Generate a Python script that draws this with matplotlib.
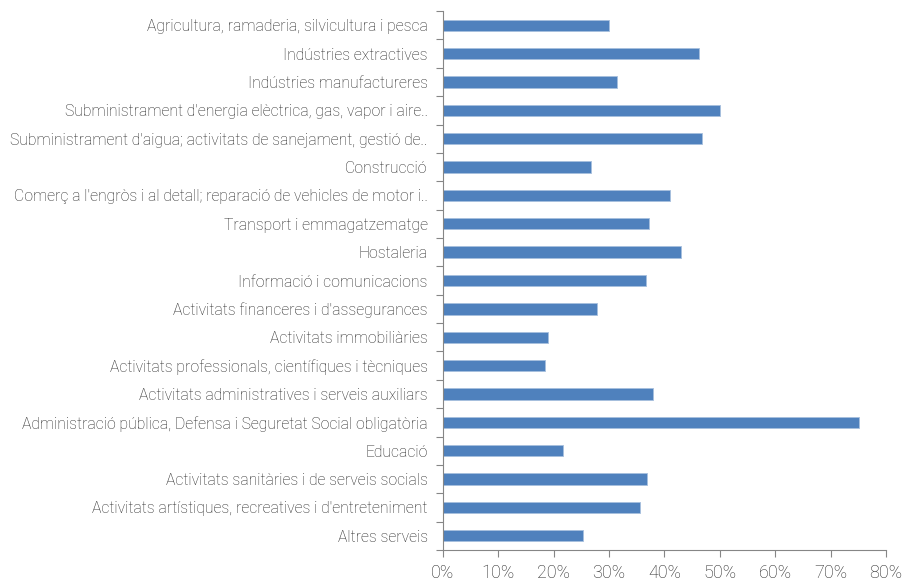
import matplotlib.pyplot as plt
import numpy as np
from matplotlib.ticker import FixedLocator, PercentFormatter

plt.rcParams['font.family'] = ['Roboto', 'DejaVu Sans']
plt.rcParams['font.weight'] = 'light'

sectors = [
    "Agricultura, ramaderia, silvicultura i pesca",
    "Indústries extractives",
    "Indústries manufactureres",
    "Subministrament d'energia elèctrica, gas, vapor i aire..",
    "Subministrament d'aigua; activitats de sanejament, gestió de..",
    "Construcció",
    "Comerç a l'engròs i al detall; reparació de vehicles de motor i..",
    "Transport i emmagatzematge",
    "Hostaleria",
    "Informació i comunicacions",
    "Activitats financeres i d'assegurances",
    "Activitats immobiliàries",
    "Activitats professionals, científiques i tècniques",
    "Activitats administratives i serveis auxiliars",
    "Administració pública, Defensa i Seguretat Social obligatòria",
    "Educació",
    "Activitats sanitàries i de serveis socials",
    "Activitats artístiques, recreatives i d'entreteniment",
    "Altres serveis",
]
values = [30.0, 46.2, 31.4, 50.1, 46.8, 26.8, 41.0, 37.2, 43.0, 36.7,
          27.8, 19.0, 18.4, 38.0, 75.1, 21.7, 36.9, 35.5, 25.3]

text_col = '#262626'
axis_col = '#868686'

fig = plt.figure(figsize=(9.05, 5.82), dpi=100)
ax = fig.add_axes([0.4895, 0.055, 0.4895, 0.926])

y = np.arange(len(sectors))
ax.barh(y, values, height=0.4, color='#4F81BD', edgecolor='#A7BFDE', linewidth=0.6)

ax.set_ylim(len(sectors) - 0.5, -0.5)
ax.set_xlim(0, 80)
ax.xaxis.set_major_locator(FixedLocator(np.arange(0, 81, 10)))
ax.xaxis.set_major_formatter(PercentFormatter(decimals=0))

ax.set_yticks(y)
ax.set_yticklabels(sectors)
ax.yaxis.set_minor_locator(FixedLocator(np.arange(-0.5, len(sectors), 1)))
ax.tick_params(axis='y', which='major', length=0, pad=11, labelsize=11.3, labelcolor=text_col)
ax.tick_params(axis='y', which='minor', length=5, color=axis_col, width=0.8)
ax.tick_params(axis='x', length=5, color=axis_col, width=0.8, labelsize=13,
               labelcolor=text_col, pad=5)

for s in ['top', 'right']:
    ax.spines[s].set_visible(False)
for s in ['left', 'bottom']:
    ax.spines[s].set_color(axis_col)
    ax.spines[s].set_linewidth(0.8)

fig.savefig('out.png', dpi=100)
